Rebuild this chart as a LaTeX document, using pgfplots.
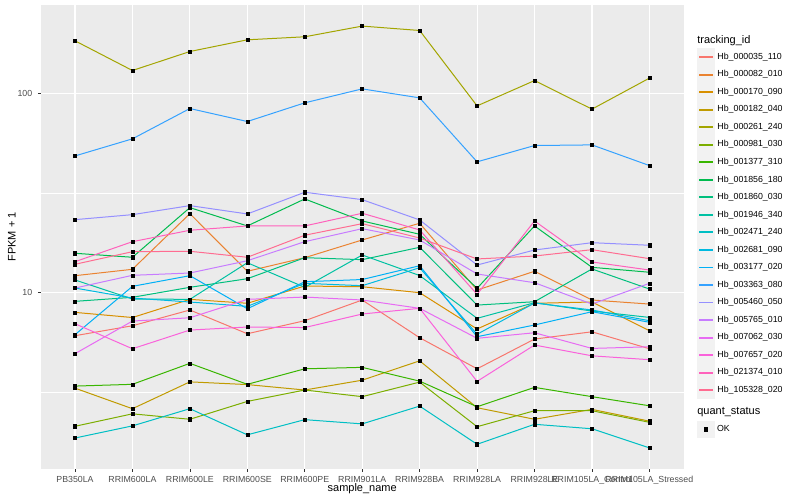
\documentclass[border=0pt]{standalone}
\usepackage{fontspec}
\setmainfont{Liberation Sans}
\usepackage{pgfplots}
\usepackage{pgfplotstable}
\pgfplotsset{compat=1.18}

\definecolor{panelbg}{HTML}{EBEBEB}
\definecolor{keybg}{HTML}{F2F2F2}
\definecolor{grey30}{HTML}{4D4D4D}
\definecolor{grey20}{HTML}{333333}
% ggplot hue palette, 20 levels
\definecolor{h01}{HTML}{F8766D}\definecolor{h02}{HTML}{EA8331}
\definecolor{h03}{HTML}{D89000}\definecolor{h04}{HTML}{C09B00}
\definecolor{h05}{HTML}{A3A500}\definecolor{h06}{HTML}{7CAE00}
\definecolor{h07}{HTML}{39B600}\definecolor{h08}{HTML}{00BB4E}
\definecolor{h09}{HTML}{00BF7D}\definecolor{h10}{HTML}{00C1A3}
\definecolor{h11}{HTML}{00BFC4}\definecolor{h12}{HTML}{00BAE0}
\definecolor{h13}{HTML}{00B0F6}\definecolor{h14}{HTML}{35A2FF}
\definecolor{h15}{HTML}{9590FF}\definecolor{h16}{HTML}{C77CFF}
\definecolor{h17}{HTML}{E76BF3}\definecolor{h18}{HTML}{FA62DB}
\definecolor{h19}{HTML}{FF62BC}\definecolor{h20}{HTML}{FF6C91}

% FPKM + 1, one column per tracking_id, rows = samples 1..11
\pgfplotstableread{
x  s01  s02   s03   s04  s05   s06  s07  s08   s09   s10   s11  s12   s13   s14   s15   s16   s17  s18  s19   s20
1  6.07 12.15 7.95  3.31 183.6 2.13 3.39 15.74 9.03  11.56 1.86 10.53 6.14  48.5  23.22 10.53 4.93 6.97 14.28 13.86
2  6.81 13.08 7.49  2.61 130.2 2.46 3.46 15.03 9.46  9.28  2.14 9.38  10.74 59.1  24.60 12.20 7.19 5.22 18.00 16.03
3  8.17 24.89 9.24  3.56 162.2 2.31 4.41 26.68 10.62 9.24  2.61 8.96  12.15 83.9  27.31 12.53 7.47 6.48 20.54 16.11
4  6.21 12.78 8.83  3.45 185.7 2.84 3.46 21.59 11.73 14.11 1.93 8.52  8.29  72.2  24.80 14.44 9.24 6.71 21.59 15.03
5  7.22 14.96 10.78 3.24 192.3 3.24 4.14 29.50 14.96 10.62 2.30 11.12 11.33 89.6  31.87 18.00 9.49 6.67 21.59 19.39
6  9.17 18.36 10.69 3.63 217.6 3.00 4.21 22.87 14.62 15.43 2.19 10.82 11.62 105.3 29.26 20.92 9.17 7.80 25.00 22.17
7  5.93 22.27 9.98  4.54 206.8 3.55 3.59 19.61 16.87 12.17 2.69 13.32 13.63 94.9  23.14 18.36 8.33 8.33 20.61 18.78
8  4.14 10.29 6.56  2.64 86.5  2.12 2.67 10.50 8.65  7.42  1.73 6.17  6.00  45.3  13.74 12.39 5.89 3.58 9.79  14.74
9  5.84 12.78 8.83  2.31 115.9 2.55 3.34 21.59 8.99  8.89  2.18 8.86  6.87  54.7  16.35 11.20 6.28 5.45 22.87 15.25
10 6.35 9.17  8.96  2.59 83.3  2.55 3.00 13.38 13.13 8.07  2.07 8.17  8.01  55.1  17.79 8.75  5.24 4.81 14.23 16.41
11 5.22 8.75  6.43  2.26 119.2 2.23 2.70 12.64 10.41 7.50  1.66 7.22  7.09  43.4  17.27 11.12 5.34 4.60 12.97 14.79
}\data

\pgfplotsset{
  ggpanel/.style={
    at={(0,0)}, anchor=south west,
    scale only axis, width=482.5pt, height=348pt,
    xmin=0.4, xmax=11.6, ymin=1.30, ymax=277.7,
  },
  ggkeys/.style={
    legend cell align=left,
    legend style={draw=none, fill=none, anchor=north west,
      inner sep=0pt, row sep=0pt, column sep=0pt,
      font=\fontsize{6.6}{7.9}\selectfont,
      nodes={inner xsep=2pt, inner ysep=0pt, minimum height=12.99pt}},
  },
}

\begin{document}
\begin{tikzpicture}
\useasboundingbox (-30.4pt,-23.25pt) rectangle (569.6pt,351.75pt);
\begin{axis}[
  ggpanel, ggkeys,
  ymode=log,
  axis background/.style={fill=panelbg},
  axis line style={draw=none},
  grid=both,
  major grid style={white, line width=0.8pt},
  minor grid style={white, line width=0.4pt},
  xtick={1,...,11},
  xticklabels={PB350LA,RRIM600LA,RRIM600LE,RRIM600SE,RRIM600PE,RRIM901LA,RRIM928BA,RRIM928LA,RRIM928LE,RRIM105LA\_Control,RRIM105LA\_Stressed},
  ytick={10,100}, yticklabels={10,100},
  minor ytick={3.1623,31.623},
  xtick pos=bottom, ytick pos=left,
  tick align=outside, major tick length=2pt, minor tick length=0pt,
  tick style={grey20, line width=0.5pt},
  ticklabel style={font=\fontsize{6.6}{7.9}\selectfont, text=grey30, inner sep=0pt},
  xticklabel shift=3.4pt, yticklabel shift=4pt,
  xlabel={sample\_name}, ylabel={FPKM + 1},
  label style={font=\fontsize{8.25}{9.9}\selectfont},
  xlabel style={at={(axis description cs:0.5,-0.0431)}, anchor=center},
  ylabel style={at={(axis description cs:-0.0444,0.5)}, anchor=center},
  cycle list={h01\\h02\\h03\\h04\\h05\\h06\\h07\\h08\\h09\\h10\\h11\\h12\\h13\\h14\\h15\\h16\\h17\\h18\\h19\\h20\\},
  legend style={at={(1.0205,0.9072)}},
  legend image code/.code={
    \fill[keybg] (0.3pt,-6.2pt) rectangle (12.66pt,6.2pt);
    \draw[#1, line width=1.4pt] (1.2pt,0pt) -- (11.76pt,0pt);},
  legend entries={Hb\_000035\_110,Hb\_000082\_010,Hb\_000170\_090,Hb\_000182\_040,
    Hb\_000261\_240,Hb\_000981\_030,Hb\_001377\_310,Hb\_001856\_180,Hb\_001860\_030,
    Hb\_001946\_340,Hb\_002471\_240,Hb\_002681\_090,Hb\_003177\_020,Hb\_003363\_080,
    Hb\_005460\_050,Hb\_005765\_010,Hb\_007062\_030,Hb\_007657\_020,Hb\_021374\_010,
    Hb\_105328\_020},
]
\pgfplotsinvokeforeach{1,...,20}{
  \addplot+[no marks, line width=0.75pt] table[x index=0, y index=#1]{\data};
}
\pgfplotsinvokeforeach{1,...,20}{
  \addplot[forget plot, only marks, mark=square*, mark size=1.15pt, black]
    table[x index=0, y index=#1]{\data};
}
\end{axis}

% second legend: quant_status
\begin{axis}[
  ggpanel, ggkeys, hide axis,
  legend style={at={(1.0205,0.1049)}},
]
\addlegendimage{legend image code/.code={
  \fill[keybg] (0.3pt,-6.2pt) rectangle (12.66pt,6.2pt);
  \fill[black] (5.18pt,-1.3pt) rectangle (7.78pt,1.3pt);}}
\addlegendentry{OK}
\end{axis}

% legend titles
\node[anchor=west, inner sep=0pt, font=\fontsize{8.25}{9.9}\selectfont]
  at (492.4pt,321.2pt) {tracking\_id};
\node[anchor=west, inner sep=0pt, font=\fontsize{8.25}{9.9}\selectfont]
  at (492.4pt,42.5pt) {quant\_status};
\end{tikzpicture}
\end{document}
